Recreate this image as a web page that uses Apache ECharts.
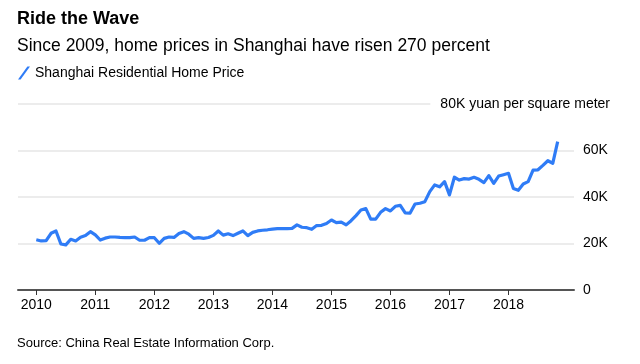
<!DOCTYPE html>
<html>
<head>
<meta charset="utf-8">
<script src="https://cdn.jsdelivr.net/npm/echarts@6/dist/echarts.min.js"></script>
<style>
html,body{margin:0;padding:0;background:#fff;}
#chart{width:640px;height:364px;}
</style>
</head>
<body>
<div id="chart"></div>
<script>
// Tick labels (years) shown on the x axis
const yearTicks = [2010, 2011, 2012, 2013, 2014, 2015, 2016, 2017, 2018];
// Monthly series starts January 2010 (one value per month through Nov 2018)
const startYear = 2010;
// Shanghai residential home price, yuan per square meter (thousands)
const prices2010 = [21.6, 21.1, 21.2, 24.4, 25.4, 19.8, 19.4, 21.8, 21.1, 22.7, 23.4, 25.1];
const prices2011 = [23.7, 21.5, 22.3, 22.8, 22.8, 22.6, 22.5, 22.5, 22.8, 21.4, 21.4, 22.5];
const prices2012 = [22.5, 20.1, 22.2, 22.8, 22.6, 24.3, 25.1, 24.0, 22.2, 22.5, 22.2, 22.6];
const prices2013 = [23.5, 25.4, 23.6, 24.2, 23.4, 24.4, 25.4, 23.4, 24.8, 25.4, 25.7, 25.9];
const prices2014 = [26.2, 26.4, 26.4, 26.4, 26.5, 28.0, 27.0, 26.8, 26.1, 27.7, 27.8, 28.6];
const prices2015 = [30.1, 29.0, 29.2, 28.0, 29.8, 32.0, 34.4, 35.0, 30.5, 30.5, 33.4, 35.0];
const prices2016 = [34.0, 36.0, 36.4, 33.2, 33.1, 37.0, 37.3, 38.0, 42.3, 45.2, 44.4, 46.6];
const prices2017 = [40.9, 48.5, 47.3, 47.9, 47.7, 48.5, 47.6, 46.2, 49.2, 45.9, 49.0, 49.6];
const prices2018 = [50.2, 43.7, 42.9, 45.6, 46.6, 51.6, 51.7, 53.6, 55.6, 54.5, 63.8];
const seriesName = 'Shanghai Residential Home Price';

const allPrices = [].concat(prices2010, prices2011, prices2012, prices2013, prices2014,
  prices2015, prices2016, prices2017, prices2018);
const lineData = allPrices.map((v, i) => [startYear + i / 12, v * 1000]);

const chart = echarts.init(document.getElementById('chart'), null, {renderer: 'canvas'});
const FONT = '"Liberation Sans", Arial, sans-serif';
const option = {
  backgroundColor: '#fff',
  animation: false,
  textStyle: {fontFamily: FONT},
  title: [
    {text: 'Ride the Wave', left: 17, top: 10, padding: 0,
     textStyle: {fontFamily: FONT, fontSize: 18, fontWeight: 'bold', color: '#000'}},
    {text: 'Since 2009, home prices in Shanghai have risen 270 percent', left: 17, top: 37, padding: 0,
     textStyle: {fontFamily: FONT, fontSize: 17.5, fontWeight: 'normal', color: '#000'}},
    {text: 'Source: China Real Estate Information Corp.', left: 17, top: 337, padding: 0,
     textStyle: {fontFamily: FONT, fontSize: 13, fontWeight: 'normal', color: '#000'}}
  ],
  legend: {
    left: 18, top: 66, padding: 0,
    itemWidth: 12, itemHeight: 13, itemGap: 10,
    icon: 'path://M0,13 L2.6,13 L12,0 L9.4,0 Z',
    textStyle: {fontFamily: FONT, fontSize: 14, color: '#000'},
    data: [{name: seriesName, itemStyle: {color: '#2f7cf6'}}]
  },
  grid: {left: 18, right: 66, top: 104, bottom: 74, containLabel: false},
  xAxis: {
    type: 'value', min: 2009.69, max: 2019.11,
    axisLine: {show: true, lineStyle: {color: '#555', width: 2}},
    axisTick: {show: true, length: 5, inside: false, customValues: yearTicks,
               lineStyle: {color: '#333', width: 1}},
    axisLabel: {customValues: yearTicks, formatter: v => String(Math.round(v)),
                fontFamily: FONT, fontSize: 14, color: '#000', margin: 8},
    splitLine: {show: false}
  },
  yAxis: [
    {
      type: 'value', min: 0, max: 80000, interval: 20000, position: 'right',
      axisLine: {show: false}, axisTick: {show: false},
      splitLine: {show: true, lineStyle: {color: '#e6e6e6', width: 1.5}},
      axisLabel: {
        align: 'left', margin: 9, fontFamily: FONT, fontSize: 14, color: '#000',
        formatter: v => v === 0 ? '0' : (v === 80000 ? '' : (v / 1000) + 'K')
      }
    },
    {
      type: 'value', min: 0, max: 80000, interval: 80000, position: 'right',
      axisLine: {show: false}, axisTick: {show: false}, splitLine: {show: false},
      axisLabel: {
        align: 'right', margin: 36, fontFamily: FONT, fontSize: 14, color: '#000',
        backgroundColor: '#fff', padding: [3, 0, 3, 10],
        formatter: v => v === 80000 ? '80K yuan per square meter' : ''
      }
    }
  ],
  series: [{
    name: seriesName, type: 'line', data: lineData, yAxisIndex: 0,
    showSymbol: false, symbol: 'none',
    lineStyle: {color: '#2f7cf6', width: 3.2, join: 'round'},
    itemStyle: {color: '#2f7cf6'}
  }]
};
chart.setOption(option);
</script>
</body>
</html>
